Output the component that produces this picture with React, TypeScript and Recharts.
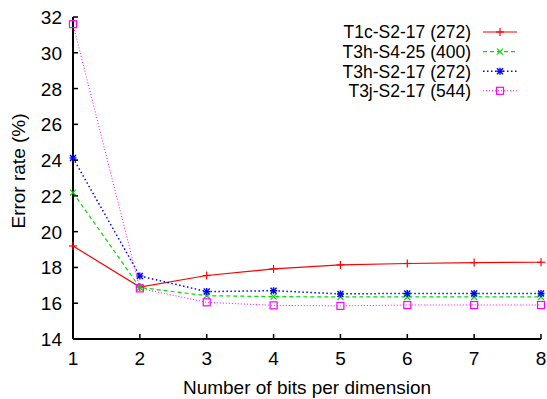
import React from 'react';
import { LineChart, Line, XAxis, YAxis, Legend } from 'recharts';

const bits = [1, 2, 3, 4, 5, 6, 7, 8];
const t1cS217 = [19.2, 16.9, 17.55, 17.92, 18.14, 18.22, 18.27, 18.29];
const t3hS425 = [22.18, 16.88, 16.42, 16.37, 16.35, 16.35, 16.35, 16.35];
const t3hS217 = [24.12, 17.52, 16.65, 16.7, 16.52, 16.55, 16.55, 16.55];
const t3jS217 = [31.6, 16.83, 16.05, 15.88, 15.85, 15.9, 15.9, 15.9];
const xTicks = [1, 2, 3, 4, 5, 6, 7, 8];
const yTicks = [14, 16, 18, 20, 22, 24, 26, 28, 30, 32];
const seriesNames = ['T1c-S2-17 (272)', 'T3h-S4-25 (400)', 'T3h-S2-17 (272)', 'T3j-S2-17 (544)'];

const data = bits.map((b, i) => ({
  x: b,
  s0: t1cS217[i],
  s1: t3hS425[i],
  s2: t3hS217[i],
  s3: t3jS217[i],
}));

const FONT = '"Liberation Sans", Arial, Helvetica, sans-serif';
const FS = 19;
const LEG_FS = 17.5;

const styles = [
  { key: 's0', color: '#ff0000', dash: undefined as string | undefined, width: 1.2, marker: 'plus' },
  { key: 's1', color: '#00dd00', dash: '4 3', width: 1.2, marker: 'cross' },
  { key: 's2', color: '#0000ff', dash: '1.5 2.5', width: 1.5, marker: 'star' },
  { key: 's3', color: '#ff00ff', dash: '1 2', width: 1, marker: 'square' },
];

function Marker({ cx, cy, type, color }: { cx: number; cy: number; type: string; color: string }) {
  const r = 3.5;
  if (type === 'plus') {
    return (
      <g stroke={color} strokeWidth={1.2}>
        <line x1={cx - 4} y1={cy} x2={cx + 4} y2={cy} />
        <line x1={cx} y1={cy - 4} x2={cx} y2={cy + 4} />
      </g>
    );
  }
  if (type === 'cross') {
    return (
      <g stroke={color} strokeWidth={1.2}>
        <line x1={cx - 3} y1={cy - 3} x2={cx + 3} y2={cy + 3} />
        <line x1={cx - 3} y1={cy + 3} x2={cx + 3} y2={cy - 3} />
      </g>
    );
  }
  if (type === 'star') {
    return (
      <g stroke={color} strokeWidth={1.4}>
        <line x1={cx - r} y1={cy} x2={cx + r} y2={cy} />
        <line x1={cx} y1={cy - r} x2={cx} y2={cy + r} />
        <line x1={cx - 3} y1={cy - 3} x2={cx + 3} y2={cy + 3} />
        <line x1={cx - 3} y1={cy + 3} x2={cx + 3} y2={cy - 3} />
      </g>
    );
  }
  return <rect x={cx - r} y={cy - r} width={2 * r} height={2 * r} fill="none" stroke={color} strokeWidth={1.2} />;
}

const BottomTick = (p: any) => {
  const m = 26;
  return (
    <g>
      <line x1={p.x} y1={p.y - m} x2={p.x} y2={p.y - m - 5} stroke="#000" strokeWidth={1.5} />
      <text x={p.x} y={p.y} textAnchor="middle" fontFamily={FONT} fontSize={FS} fill="#000">
        {p.payload.value}
      </text>
    </g>
  );
};

const TopTick = (p: any) => (
  <line x1={p.x} y1={p.y} x2={p.x} y2={p.y + 5} stroke="#000" strokeWidth={1.5} />
);

const LeftTick = (p: any) => {
  const m = 11;
  return (
    <g>
      <line x1={p.x + m} y1={p.y} x2={p.x + m + 5} y2={p.y} stroke="#000" strokeWidth={1.5} />
      <text x={p.x} y={p.y + 7} textAnchor="end" fontFamily={FONT} fontSize={FS} fill="#000">
        {p.payload.value}
      </text>
    </g>
  );
};

const RightTick = (p: any) => (
  <line x1={p.x} y1={p.y} x2={p.x - 5} y2={p.y} stroke="#000" strokeWidth={1.5} />
);

const YLabel = (props: any) => {
  const vb = props.viewBox || { x: 0, y: 17, width: 73, height: 322 };
  const cy = vb.y + vb.height / 2 - 7;
  return (
    <text
      transform={`translate(25, ${cy}) rotate(-90)`}
      textAnchor="middle"
      fontFamily={FONT}
      fontSize={FS}
      fill="#000"
    >
      Error rate (%)
    </text>
  );
};

const LegendContent = () => {
  const rowH = 19.6;
  return (
    <svg width={240} height={84} style={{ display: 'block' }}>
      {styles.map((s, i) => {
        const y = 10 + i * rowH;
        return (
          <g key={s.key}>
            <text x={171} y={y + 6.3} textAnchor="end" fontFamily={FONT} fontSize={LEG_FS} fill="#000">
              {seriesNames[i]}
            </text>
            <line x1={183} y1={y} x2={217} y2={y} stroke={s.color} strokeWidth={s.width} strokeDasharray={s.dash} />
            <Marker cx={200} cy={y} type={s.marker} color={s.color} />
          </g>
        );
      })}
    </svg>
  );
};

export default function App() {
  return (
    <div style={{ position: 'absolute', left: 0, top: 0, width: 547, height: 399, background: '#fff' }}>
      <LineChart width={547} height={399} data={data} margin={{ top: 17, right: 6, bottom: 0, left: 0 }}>
        <XAxis
          xAxisId="b"
          dataKey="x"
          type="number"
          domain={[1, 8]}
          ticks={xTicks}
          interval={0}
          height={60}
          tickSize={0}
          tickMargin={26}
          tickLine={false}
          tick={BottomTick}
          axisLine={{ stroke: '#000', strokeWidth: 2 }}
          label={{ value: 'Number of bits per dimension', position: 'insideBottom', offset: 5, fontFamily: FONT, fontSize: FS, fill: '#000' }}
        />
        <XAxis
          xAxisId="t"
          orientation="top"
          dataKey="x"
          type="number"
          domain={[1, 8]}
          ticks={xTicks}
          interval={0}
          height={0}
          tickSize={0}
          tickMargin={0}
          tickLine={false}
          tick={TopTick}
          axisLine={{ stroke: '#000', strokeWidth: 2 }}
        />
        <YAxis
          yAxisId="l"
          type="number"
          domain={[14, 32]}
          ticks={yTicks}
          interval={0}
          width={73}
          tickSize={0}
          tickMargin={11}
          tickLine={false}
          tick={LeftTick}
          axisLine={{ stroke: '#000', strokeWidth: 2 }}
          label={<YLabel />}
        />
        <YAxis
          yAxisId="r"
          orientation="right"
          type="number"
          domain={[14, 32]}
          ticks={yTicks}
          interval={0}
          width={0}
          tickSize={0}
          tickMargin={0}
          tickLine={false}
          tick={RightTick}
          axisLine={{ stroke: '#000', strokeWidth: 2 }}
        />
        {styles.map((s, i) => (
          <Line
            key={s.key}
            xAxisId="b"
            yAxisId="l"
            type="linear"
            dataKey={s.key}
            name={seriesNames[i]}
            stroke={s.color}
            strokeWidth={s.width}
            strokeDasharray={s.dash}
            isAnimationActive={false}
            dot={(p: any) => <Marker key={`${s.key}-${p.index}`} cx={p.cx} cy={p.cy} type={s.marker} color={s.color} />}
            activeDot={false}
          />
        ))}
        <Legend
          layout="vertical"
          align="center"
          verticalAlign="middle"
          content={LegendContent}
          wrapperStyle={{ left: 300, top: 22, width: 240, height: 84, bottom: 'auto', right: 'auto' }}
        />
      </LineChart>
    </div>
  );
}
